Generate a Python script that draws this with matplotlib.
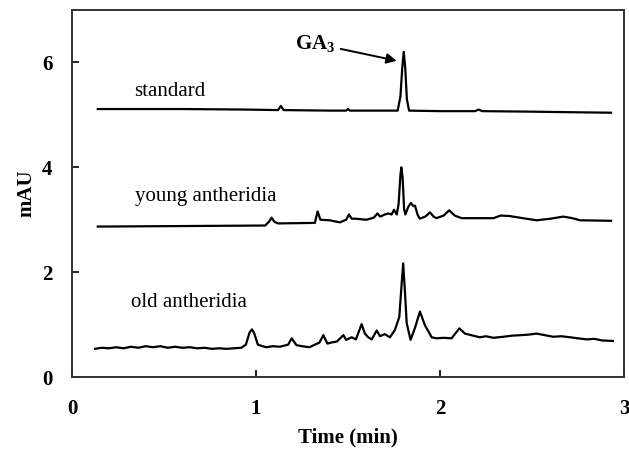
import matplotlib
matplotlib.use("Agg")
import matplotlib.pyplot as plt

plt.rcParams['font.family'] = ['Liberation Serif', 'DejaVu Serif']
plt.rcParams['mathtext.fontset'] = 'custom'
plt.rcParams['mathtext.rm'] = 'Liberation Serif'
plt.rcParams['mathtext.bf'] = 'Liberation Serif:bold'

# ---- data (time in min, absorbance in mAU) ----
std_t = [0.14, 0.60, 0.95, 1.12, 1.135, 1.15, 1.40, 1.49, 1.50, 1.51, 1.770,
         1.785, 1.795, 1.803, 1.811, 1.820, 1.832, 2.00, 2.19, 2.21, 2.23,
         2.50, 2.70, 2.93]
std_y = [5.11, 5.11, 5.10, 5.09, 5.17, 5.09, 5.08, 5.08, 5.11, 5.08, 5.08,
         5.35, 5.90, 6.20, 5.90, 5.30, 5.08, 5.07, 5.07, 5.10, 5.07,
         5.06, 5.05, 5.04]

young_t = [0.14, 0.60, 1.05, 1.07, 1.085, 1.10, 1.12, 1.32, 1.335, 1.35,
           1.40, 1.456, 1.49, 1.505, 1.52, 1.54, 1.60, 1.64, 1.66, 1.675,
           1.70, 1.72, 1.737, 1.75, 1.765, 1.775, 1.785, 1.79, 1.797, 1.805,
           1.812, 1.828, 1.842, 1.855, 1.864, 1.878, 1.89, 1.92, 1.946, 1.965,
           1.98, 2.02, 2.05, 2.08, 2.118, 2.29, 2.33, 2.38, 2.45, 2.525,
           2.60, 2.67, 2.72, 2.76, 2.93]
young_y = [2.87, 2.88, 2.89, 2.96, 3.04, 2.96, 2.93, 2.94, 3.16, 3.00,
           2.99, 2.95, 3.00, 3.10, 3.02, 3.02, 3.00, 3.04, 3.12, 3.06,
           3.10, 3.12, 3.10, 3.19, 3.10, 3.30, 3.85, 4.00, 3.80, 3.20,
           3.10, 3.25, 3.32, 3.26, 3.27, 3.10, 3.02, 3.06, 3.14, 3.06,
           3.03, 3.08, 3.18, 3.08, 3.03, 3.03, 3.08, 3.07, 3.03, 2.99,
           3.02, 3.06, 3.03, 2.99, 2.98]

old_t = [0.125, 0.16, 0.20, 0.24, 0.28, 0.32, 0.36, 0.40, 0.44, 0.48,
         0.52, 0.56, 0.60, 0.64, 0.68, 0.72, 0.76, 0.80, 0.84, 0.88,
         0.92, 0.945, 0.965, 0.978, 0.99, 1.01, 1.035, 1.058, 1.09, 1.13,
         1.175, 1.194, 1.22, 1.25, 1.29, 1.345, 1.366, 1.388, 1.41, 1.44,
         1.475, 1.49, 1.52, 1.543, 1.574, 1.592, 1.61, 1.629, 1.656, 1.674,
         1.70, 1.728, 1.755, 1.779, 1.790, 1.800, 1.810, 1.819, 1.84, 1.865,
         1.891, 1.918, 1.955, 1.98, 2.02, 2.063, 2.105, 2.136, 2.17, 2.217,
         2.25, 2.29, 2.344, 2.39, 2.435, 2.48, 2.525, 2.57, 2.616, 2.66,
         2.707, 2.75, 2.797, 2.84, 2.88, 2.94]
old_y = [0.54, 0.56, 0.55, 0.57, 0.55, 0.58, 0.56, 0.59, 0.57, 0.59,
         0.56, 0.58, 0.56, 0.57, 0.55, 0.56, 0.54, 0.55, 0.54, 0.55,
         0.56, 0.62, 0.85, 0.91, 0.84, 0.62, 0.59, 0.57, 0.59, 0.58,
         0.62, 0.74, 0.61, 0.59, 0.57, 0.66, 0.80, 0.64, 0.66, 0.68,
         0.80, 0.71, 0.76, 0.72, 1.01, 0.83, 0.76, 0.72, 0.89, 0.78,
         0.82, 0.76, 0.90, 1.15, 1.70, 2.17, 1.60, 1.03, 0.71, 0.95,
         1.25, 0.99, 0.76, 0.74, 0.75, 0.74, 0.93, 0.83, 0.80, 0.76,
         0.78, 0.75, 0.77, 0.79, 0.80, 0.81, 0.83, 0.80, 0.77, 0.78,
         0.76, 0.74, 0.72, 0.73, 0.70, 0.69]

traces = [(std_t, std_y, "standard", 0.34, 5.45),
          (young_t, young_y, "young antheridia", 0.34, 3.44),
          (old_t, old_y, "old antheridia", 0.32, 1.43)]

x_ticks = [0, 1, 2, 3]
y_ticks = [0, 2, 4, 6]

fig = plt.figure(figsize=(6.29, 4.49), dpi=100)
ax = fig.add_axes([0.1145, 0.160, 0.8775, 0.818])

for t, y, name, lx, ly in traces:
    ax.plot(t, y, color='black', lw=1.6, solid_joinstyle='round')
    ax.text(lx, ly, name, fontsize=15, va='center', ha='left')

ax.annotate(r"$\mathbf{GA_3}$", xy=(1.765, 6.03), xytext=(1.43, 6.36),
            fontsize=15, ha='right', va='center',
            arrowprops=dict(arrowstyle='-|>', color='black', lw=1.4,
                            mutation_scale=15, shrinkA=2, shrinkB=0))

ax.set_xlim(0, 3)
ax.set_ylim(0, 7)
ax.set_xticks(x_ticks)
ax.set_yticks(y_ticks)
ax.tick_params(direction='in', length=5, width=1.2, top=False, right=False,
               labelsize=15)
ax.tick_params(axis='x', pad=16)
ax.tick_params(axis='y', pad=14)
for lab in ax.get_xticklabels() + ax.get_yticklabels():
    lab.set_fontweight('bold')
for s in ax.spines.values():
    s.set_linewidth(1.4)
    s.set_color('#333333')

ax.set_xlabel("Time (min)", fontsize=15, fontweight='bold', labelpad=6)
ax.set_ylabel("mAU", fontsize=15, fontweight='bold', labelpad=4)

fig.savefig("out.png", dpi=100)
